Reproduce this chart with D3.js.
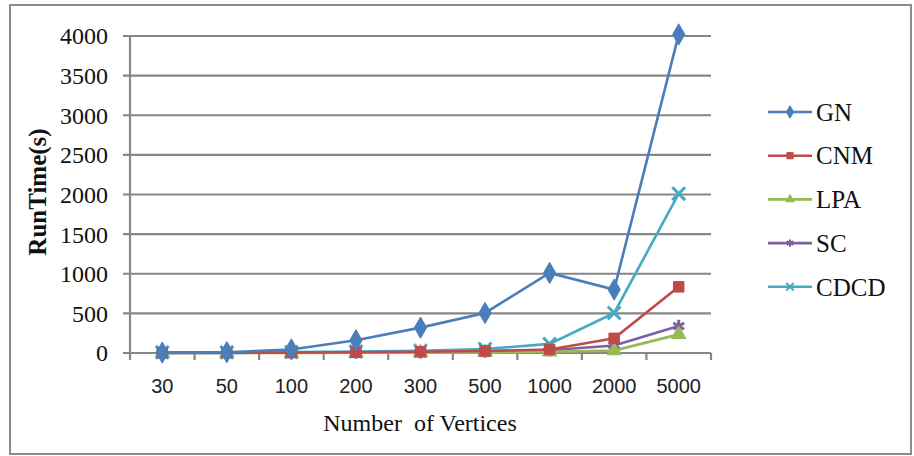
<!DOCTYPE html>
<html>
<head>
<meta charset="utf-8">
<script src="https://cdn.jsdelivr.net/npm/d3@7"></script>
<style>
  body { margin: 0; background: #fff; }
  svg { display: block; }
</style>
</head>
<body>
<script>
var categories = ['30', '50', '100', '200', '300', '500', '1000', '2000', '5000']
var yTicks = [0, 500, 1000, 1500, 2000, 2500, 3000, 3500, 4000]

var gn   = [5, 10, 45, 160, 320, 505, 1010, 800, 4020]
var cnm  = [2, 3, 5, 10, 15, 25, 45, 185, 835]
var lpa  = [1, 1, 2, 3, 5, 8, 15, 30, 235]
var sc   = [1, 2, 3, 5, 10, 18, 35, 95, 340]
var cdcd = [8, 8, 12, 18, 28, 50, 115, 505, 2010]

var seriesNames = ['GN', 'CNM', 'LPA', 'SC', 'CDCD']
var seriesValues = [gn, cnm, lpa, sc, cdcd]

var colors = ['#4A7EBB', '#BE4B48', '#98B954', '#7D60A0', '#46AAC5']
var shapes = [
  { type: d3.symbolDiamond, size: 130, fill: true },
  { type: d3.symbolSquare, size: 110, fill: true },
  { type: d3.symbolTriangle, size: 90, fill: true },
  { type: d3.symbolAsterisk, size: 110, fill: false },
  { type: d3.symbolX, size: 110, fill: false }
]

var W = 914, H = 456
var margin = { top: 36, left: 130, right: 203, bottom: 103 }
var width = W - margin.left - margin.right,
    height = H - margin.top - margin.bottom

var svg = d3.select('body').append('svg')
    .attr('width', W)
    .attr('height', H)

// chart border
svg.append('rect')
    .attr('x', 10).attr('y', 5)
    .attr('width', 901).attr('height', 449)
    .attr('fill', 'none')
    .attr('stroke', '#8c8c8c')
    .attr('stroke-width', 2)

var g = svg.append('g')
    .attr('transform', 'translate(' + margin.left + ',' + margin.top + ')')

var x = d3.scaleBand().domain(categories).range([0, width])
var y = d3.scaleLinear().domain([0, 4000]).range([height, 0])

// gridlines
g.selectAll('.grid')
    .data(yTicks)
  .enter().append('line')
    .attr('x1', -7).attr('x2', width)
    .attr('y1', function(d){ return y(d) })
    .attr('y2', function(d){ return y(d) })
    .attr('stroke', '#868686')
    .attr('stroke-width', 2.2)

// y axis line
g.append('line')
    .attr('x1', 0).attr('x2', 0)
    .attr('y1', 0).attr('y2', height)
    .attr('stroke', '#868686')
    .attr('stroke-width', 2.2)

// x axis ticks at band edges
var edges = categories.map(function(c){ return x(c) }).concat([width])
g.selectAll('.xtick')
    .data(edges)
  .enter().append('line')
    .attr('x1', function(d){ return d }).attr('x2', function(d){ return d })
    .attr('y1', height).attr('y2', height + 7)
    .attr('stroke', '#868686')
    .attr('stroke-width', 2.2)

g.selectAll('.ylab')
    .data(yTicks)
  .enter().append('text')
    .attr('x', -22)
    .attr('y', function(d){ return y(d) })
    .attr('dy', '0.35em')
    .attr('text-anchor', 'end')
    .style('font-family', '"Liberation Serif", "Times New Roman", serif')
    .style('font-size', '24px')
    .attr('fill', '#111')
    .text(function(d){ return d })

g.selectAll('.xlab')
    .data(categories)
  .enter().append('text')
    .attr('x', function(d){ return x(d) + x.bandwidth() / 2 })
    .attr('y', height + 40)
    .attr('text-anchor', 'middle')
    .style('font-family', '"Liberation Sans", Arial, sans-serif')
    .style('font-size', '20px')
    .attr('fill', '#222')
    .text(function(d){ return d })

// axis titles
svg.append('text')
    .attr('x', 420).attr('y', 431)
    .attr('text-anchor', 'middle')
    .style('font-family', '"Liberation Serif", "Times New Roman", serif')
    .style('font-size', '24px')
    .style('white-space', 'pre')
    .attr('fill', '#111')
    .text('Number  of Vertices')

svg.append('text')
    .attr('transform', 'translate(46,192) rotate(-90)')
    .attr('text-anchor', 'middle')
    .style('font-family', '"Liberation Serif", "Times New Roman", serif')
    .style('font-size', '25px')
    .style('font-weight', 'bold')
    .attr('fill', '#111')
    .text('RunTime(s)')

var line = d3.line()
    .x(function(d, i){ return x(categories[i]) + x.bandwidth() / 2 })
    .y(function(d){ return y(d) })

function drawMarker(sel, k, scale) {
  var s = shapes[k]
  scale = scale || 1
  sel.attr('d', d3.symbol().type(s.type).size(s.size * scale))
     .attr('fill', s.fill ? colors[k] : 'none')
     .attr('stroke', colors[k])
     .attr('stroke-width', s.fill ? 1 : (scale < 1 ? 2 : 3))
}

// draw series in reverse so GN sits on top
d3.range(seriesNames.length).reverse().forEach(function(k){
  var vals = seriesValues[k]
  g.append('path')
      .datum(vals)
      .attr('d', line)
      .attr('fill', 'none')
      .attr('stroke', colors[k])
      .attr('stroke-width', 2.6)

  g.selectAll('.m' + k)
      .data(vals)
    .enter().append('path')
      .attr('transform', function(d, i){
        return 'translate(' + (x(categories[i]) + x.bandwidth() / 2) + ',' + y(d) + ')'
      })
      .call(drawMarker, k)
})

// legend
var legend = svg.append('g')
    .attr('transform', 'translate(768,112)')

seriesNames.forEach(function(name, k){
  var row = legend.append('g')
      .attr('transform', 'translate(0,' + (k * 43.7) + ')')
  row.append('line')
      .attr('x1', 0).attr('x2', 44)
      .attr('stroke', colors[k])
      .attr('stroke-width', 2.6)
  row.append('path')
      .attr('transform', 'translate(22,0)')
      .call(drawMarker, k, 0.35)
  row.append('text')
      .attr('x', 48)
      .attr('dy', '0.35em')
      .style('font-family', '"Liberation Serif", "Times New Roman", serif')
      .style('font-size', '25px')
      .attr('fill', '#111')
      .text(name)
})
</script>
</body>
</html>
